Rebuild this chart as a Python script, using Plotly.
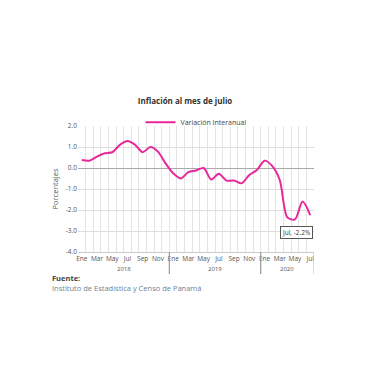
import plotly.graph_objects as go

months = ["Ene", "Feb", "Mar", "Abr", "May", "Jun", "Jul", "Ago", "Sep", "Oct", "Nov", "Dic"]
years = ["2018", "2019", "2020"]
values = [0.38, 0.35, 0.54, 0.70, 0.75, 1.10, 1.28, 1.10, 0.75, 1.00, 0.78, 0.22,
          -0.25, -0.50, -0.20, -0.12, 0.00, -0.55, -0.27, -0.60, -0.60, -0.73, -0.33, -0.10,
          0.35, 0.10, -0.57, -2.35, -2.45, -1.60, -2.24]
y_ticks = [2.0, 1.0, 0.0, -1.0, -2.0, -3.0, -4.0]
title = "Inflación al mes de julio"
series_name = "Variación Interanual"
last_label = "Jul, -2.2%"

n = len(values)
x = list(range(n))
labels = [months[i % 12] for i in range(n)]
tickvals = [i for i in x if i % 2 == 0]
ticktext = [labels[i] for i in tickvals]

font = "Open Sans"
fig = go.Figure()
fig.add_trace(go.Scatter(x=x, y=values, mode="lines", name=series_name,
                         line=dict(color="#e8279a", width=2, shape="spline", smoothing=0.8)))

fig.update_layout(
    width=380, height=380,
    margin=dict(l=78, r=66, t=126, b=128),
    paper_bgcolor="white", plot_bgcolor="white",
    showlegend=True,
    legend=dict(x=0.5, y=1.03, xanchor="center", yanchor="middle", orientation="h",
                font=dict(family=font, size=7, color="#444"), itemwidth=30,
                bgcolor="rgba(0,0,0,0)"),
    title=dict(text="<b>" + title + "</b>", x=0.487, xanchor="center", y=0.735, yanchor="middle",
               font=dict(family=font, size=8, color="#333")),
)
fig.update_xaxes(range=[-0.5, n - 0.5], tickmode="array", tickvals=tickvals, ticktext=ticktext,
                 showgrid=False, zeroline=False, ticks="", tickfont=dict(family=font, size=6.5, color="#555"),
                 showline=True, linecolor="#cccccc", linewidth=1,
                 minor=dict(tickmode="array", tickvals=[i - 0.5 for i in range(n + 1)],
                            showgrid=True, gridcolor="#e4e4e4", gridwidth=1, ticks=""))
fig.update_yaxes(range=[-4.0, 2.0], tickmode="array", tickvals=y_ticks,
                 ticktext=["%.1f" % v for v in y_ticks],
                 showgrid=True, gridcolor="#dcdcdc", zeroline=True, zerolinecolor="#aaaaaa", zerolinewidth=1,
                 tickfont=dict(family=font, size=6.5, color="#555"),
                 title=dict(text="Porcentajes", font=dict(family=font, size=7.5, color="#555"), standoff=6))

# year separators and labels
for k, yr in enumerate(years):
    start = k * 12
    end = min(start + 12, n)
    fig.add_annotation(x=(start + end - 1) / 2, y=-0.135, xref="x", yref="paper", text=yr,
                       yanchor="middle", showarrow=False, font=dict(family=font, size=6, color="#555"))
    fig.add_shape(type="line", x0=end - 0.5, x1=end - 0.5, y0=0, y1=-0.175, xref="x", yref="paper",
                  line=dict(color="#bbbbbb", width=1))
    if k > 0:
        fig.add_shape(type="line", x0=start - 0.5, x1=start - 0.5, y0=0, y1=-0.175, xref="x", yref="paper",
                      line=dict(color="#999999", width=1))

# last value label
fig.add_annotation(x=x[-1], y=values[-1], xref="x", yref="y", text=last_label, showarrow=False,
                   yshift=-17, xshift=-14, font=dict(family=font, size=6.5, color="#333"),
                   bordercolor="#555", borderwidth=1, borderpad=1, bgcolor="white")

fig.add_annotation(x=-0.12, y=-0.15, xref="paper", yref="paper", xanchor="left", yanchor="top",
                   text="<b>Fuente:</b>", showarrow=False, font=dict(family=font, size=7.5, color="#444"))
fig.add_annotation(x=-0.12, y=-0.232, xref="paper", yref="paper", xanchor="left", yanchor="top",
                   text="Instituto de Estadística y Censo de Panamá", showarrow=False,
                   font=dict(family=font, size=7.5, color="#6f7f95"))

fig.write_html("out.html")
